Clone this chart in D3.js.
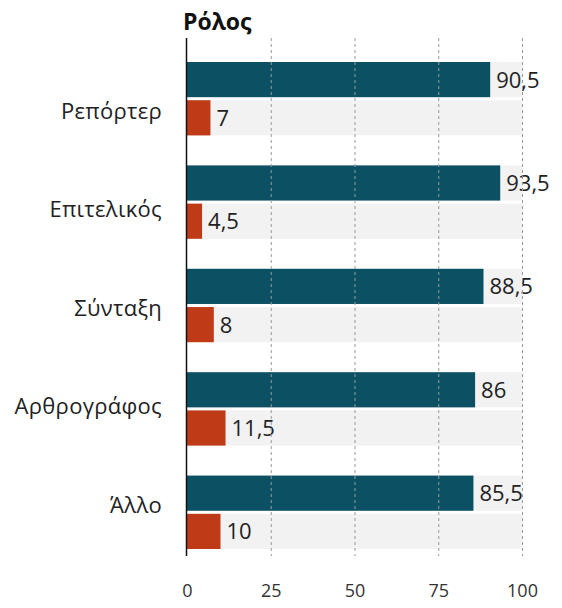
<!DOCTYPE html>
<html lang="el">
<head>
    <meta charset="UTF-8">
    <title>Ρόλος</title>
    <script src="https://cdn.jsdelivr.net/npm/d3@7/dist/d3.min.js"></script>
    <style>
        body { margin: 0; background: #fff; }
        svg text { font-family: "Open Sans", "Noto Sans", sans-serif; }
        .grid line { stroke: #999; stroke-dasharray: 3,3; stroke-width: 1; }
    </style>
</head>
<body>
<script>
    const width = 562;
    const height = 608;

    // data
    const categories = ['Ρεπόρτερ', 'Επιτελικός', 'Σύνταξη', 'Αρθρογράφος', 'Άλλο'];
    const series = ['a', 'b'];
    const valuesA = [90.5, 93.5, 88.5, 86, 85.5];
    const valuesB = [7, 4.5, 8, 11.5, 10];
    const xTicks = [0, 25, 50, 75, 100];
    const colors = ['#0b5063', '#bf3a17'];

    const locale = d3.formatLocale({ decimal: ',', thousands: '.', grouping: [3], currency: ['', '€'] });
    const fmt = locale.format('~g');

    const rows = categories.map((c, i) => ({ cat: c, vals: [valuesA[i], valuesB[i]] }));

    const svg = d3.select('body').append('svg')
        .attr('width', width)
        .attr('height', height);

    const x = d3.scaleLinear().domain([0, 100]).range([187, 522]);
    const y0 = d3.scaleBand().domain(categories).range([62, 549]).paddingInner(0.29).paddingOuter(0);
    const y1 = d3.scaleBand().domain(series).range([0, y0.bandwidth()]).paddingInner(0.08);
    // label positions (slightly tighter than the groups)
    const yLab = d3.scalePoint().domain(categories).range([111, 505]);

    // background bars
    const g = svg.append('g');
    const groups = g.selectAll('.grp')
        .data(rows)
        .enter()
        .append('g')
        .attr('class', 'grp')
        .attr('transform', d => 'translate(0,' + y0(d.cat) + ')');

    groups.selectAll('.bg')
        .data(d => d.vals)
        .enter()
        .append('rect')
        .attr('x', x(0))
        .attr('y', (v, i) => y1(series[i]))
        .attr('width', x(100) - x(0))
        .attr('height', y1.bandwidth())
        .attr('fill', '#f2f2f2');

    // gridlines
    svg.append('g')
        .attr('class', 'grid')
        .selectAll('line')
        .data(xTicks.slice(1))
        .enter()
        .append('line')
        .attr('x1', d => x(d) + 0.5)
        .attr('x2', d => x(d) + 0.5)
        .attr('y1', 38)
        .attr('y2', 556);

    // bars
    groups.selectAll('.bar')
        .data(d => d.vals)
        .enter()
        .append('rect')
        .attr('x', x(0))
        .attr('y', (v, i) => y1(series[i]))
        .attr('width', v => x(v) - x(0))
        .attr('height', y1.bandwidth())
        .attr('fill', (v, i) => colors[i]);

    // value labels
    groups.selectAll('.val')
        .data(d => d.vals)
        .enter()
        .append('text')
        .attr('x', v => x(v) + 6)
        .attr('y', (v, i) => y1(series[i]) + y1.bandwidth() / 2)
        .attr('dy', '0.36em')
        .style('font-size', '22px')
        .style('fill', '#222')
        .text(v => fmt(v));

    // category labels
    svg.append('g')
        .selectAll('text')
        .data(categories)
        .enter()
        .append('text')
        .attr('x', 162)
        .attr('y', d => yLab(d))
        .attr('dy', '0.36em')
        .attr('text-anchor', 'end')
        .style('font-size', '22px')
        .style('letter-spacing', '0.3px')
        .style('fill', '#222')
        .text(d => d);

    // zero line
    svg.append('line')
        .attr('x1', x(0) - 0.5)
        .attr('x2', x(0) - 0.5)
        .attr('y1', 38)
        .attr('y2', 556)
        .attr('stroke', '#111')
        .attr('stroke-width', 1.5);

    // x axis
    const xAxis = svg.append('g')
        .attr('transform', 'translate(0,580)')
        .call(d3.axisBottom(x).tickValues(xTicks).tickSize(0).tickPadding(4));
    xAxis.select('.domain').remove();
    xAxis.selectAll('text')
        .style('font-size', '18px')
        .style('fill', '#333');

    // title
    svg.append('text')
        .attr('x', 183)
        .attr('y', 30)
        .style('font-size', '23px')
        .style('font-weight', 'bold')
        .style('fill', '#111')
        .text('Ρόλος');
</script>
</body>
</html>
